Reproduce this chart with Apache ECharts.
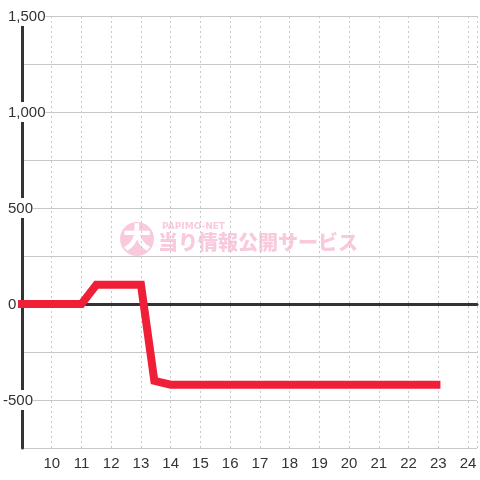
<!DOCTYPE html>
<html><head><meta charset="utf-8">
<script src="https://cdn.jsdelivr.net/npm/echarts@6/dist/echarts.min.js"></script>
<style>html,body{margin:0;padding:0;background:#fff}#c{width:480px;height:480px}</style>
</head><body><div id="c"></div>
<script>
// Data
const xValues = [8.83, 11, 11.5, 13, 13.45, 14, 23.07];
const yValues = [0, 0, 100, 100, -400, -420, -420];
const xTickLabels = [10, 11, 12, 13, 14, 15, 16, 17, 18, 19, 20, 21, 22, 23, 24];
const yTickLabels = [-500, 0, 500, 1000, 1500];

const points = xValues.map((x, i) => [x, yValues[i]]);
const fmt = v => v.toLocaleString('en-US');

const chart = echarts.init(document.getElementById('c'), null, {renderer: 'canvas'});
chart.setOption({
  backgroundColor: '#fff',
  animation: false,
  grid: {left: 21, right: 0, top: 16, bottom: 32, containLabel: false},
  xAxis: [{
    type: 'value', min: 9, max: 24.3, interval: 1, position: 'bottom',
    axisLine: {show: false, onZero: false},
    axisTick: {show: false},
    axisLabel: {
      color: '#333', fontSize: 15, fontFamily: 'Liberation Sans, Arial, sans-serif', margin: 8,
      formatter: v => xTickLabels.includes(v) ? String(v) : ''
    },
    splitLine: {show: true, lineStyle: {color: '#c8c8c8', type: [2, 3], width: 1}}
  }, {
    type: 'value', min: 9, max: 24.3, position: 'bottom',
    axisLine: {show: true, onZero: true, lineStyle: {color: '#333', width: 3}},
    axisTick: {show: false}, axisLabel: {show: false}, splitLine: {show: false}
  }],
  yAxis: {
    type: 'value', min: -750, max: 1500, interval: 250,
    axisLine: {show: true, onZero: false, lineStyle: {color: '#333', width: 3}},
    axisTick: {show: false},
    splitLine: {show: true, lineStyle: {color: '#c8c8c8', width: 1}},
    axisLabel: {
      align: 'left', margin: 19,
      formatter: v => yTickLabels.includes(v) ? (v < 0 ? '{n|' + fmt(v) + '}' : '{p|' + fmt(v) + '}') : '',
      rich: {
        p: {color: '#333', fontSize: 15, fontFamily: 'Liberation Sans, Arial, sans-serif', backgroundColor: '#fff', padding: [3, 0, 2, 5]},
        n: {color: '#333', fontSize: 15, fontFamily: 'Liberation Sans, Arial, sans-serif', backgroundColor: '#fff', padding: [3, 0, 2, 0]}
      }
    }
  },
  graphic: [
    {type: 'circle', z: -1, shape: {cx: 137, cy: 239, r: 17}, style: {fill: '#f9c9de'}},
    {type: 'text', z: -1, left: 123, top: 223, style: {text: '大', fill: '#fff', font: '900 28px "Noto Sans CJK JP"'}},
    {type: 'text', z: -1, left: 162, top: 222, style: {text: 'PAPIMO-NET', fill: '#f9c9de', font: 'bold 9px "DejaVu Sans"'}},
    {type: 'text', z: -1, left: 158, top: 232, style: {text: '当り情報公開サービス', fill: '#f9c9de', font: '900 20px "Noto Sans CJK JP"'}}
  ],
  series: [{
    type: 'line', xAxisIndex: 0, data: points, symbol: 'none', clip: false, z: 5,
    lineStyle: {color: '#ee1f36', width: 8, cap: 'butt', join: 'miter'}
  }]
});
</script></body></html>
